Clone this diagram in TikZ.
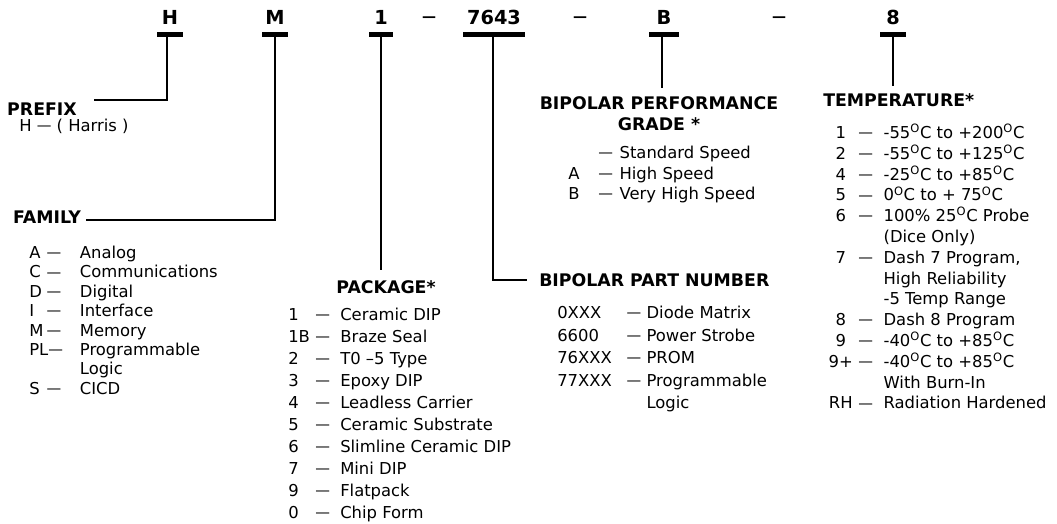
\documentclass[tikz,border=0pt]{standalone}
\usepackage{fontspec}
\setmainfont{DejaVu Sans}
\usepackage{array}
\usepackage{tikz}
\usetikzlibrary{calc}
\newcommand{\dd}{\raisebox{0.6pt}{\fontsize{11}{12}\selectfont ---}}
\newcommand{\dgC}{\textsuperscript{O}C}

\begin{document}
\begin{tikzpicture}[x=0.75pt,y=-0.75pt,
  codechar/.style={font=\fontsize{14.5}{17}\selectfont\bfseries,inner sep=0pt,anchor=base},
  hdr/.style={font=\fontsize{13}{16}\selectfont\bfseries,inner sep=0pt},
  codelist/.style={font=\fontsize{12.3}{#1}\selectfont,inner sep=0pt,anchor=base west},
  tbar/.style={line width=3.6pt},
  lead/.style={line width=2.2pt}]
  \useasboundingbox (0,0) rectangle (1057,524);
  % part number along the top, each field with its T bar
  \foreach \n/\x/\w/\lbl in {pH/170/13/H,pM/275/13/M,p1/381/12/1,pNum/494/31/7643,pB/664/15/B,pT/893/13/8} {
    \node[codechar] (\n) at (\x,25) {\lbl};
    \draw[tbar] ($(\n.south)+(-\w,9)$) -- ($(\n.south)+(\w,9)$);}
  \foreach \n/\x in {d1/429,d2/580,d3/779} \node[codechar] (\n) at (\x,25) {\raisebox{2.5pt}{\fontsize{10.5}{12}\selectfont ---}};
  % prefix
  \node[hdr] (prefix) at (42,109) {PREFIX};
  \node[codelist=15pt] (harris) at (19,131.5) {H \dd{} ( Harris )};
  % family
  \node[hdr] (family) at (47,217) {FAMILY};
  \node[codelist=14.55pt] (famlist) at (29,258.5) {\begin{tabular}[t]{@{}p{13pt}@{}p{25pt}@{}l@{}}
    A & \dd & Analog\\ C & \dd & Communications\\ D & \dd & Digital\\ I & \dd & Interface\\ M & \dd & Memory\\
    \multicolumn{2}{@{}l@{}}{PL\dd} & Programmable\\ & & Logic\\ S & \dd & CICD
  \end{tabular}};
  % package
  \node[hdr] (pkg) at (386,287) {PACKAGE*};
  \node[codelist=16.5pt] (pkglist) at (288,320.5) {\begin{tabular}[t]{@{}p{20.25pt}@{}p{18.75pt}@{}l@{}}
    1 & \dd & Ceramic DIP\\ 1B & \dd & Braze Seal\\ 2 & \dd & T0 --5 Type\\ 3 & \dd & Epoxy DIP\\ 4 & \dd & Leadless Carrier\\
    5 & \dd & Ceramic Substrate\\ 6 & \dd & Slimline Ceramic DIP\\ 7 & \dd & Mini DIP\\ 9 & \dd & Flatpack\\ 0 & \dd & Chip Form
  \end{tabular}};
  % bipolar part number
  \node[hdr,anchor=west] (partno) at (539,280) {BIPOLAR PART NUMBER};
  \node[codelist=16.9pt] (partlist) at (557,318.5) {\begin{tabular}[t]{@{}p{52pt}@{}p{15pt}@{}l@{}}
    0XXX & \dd & Diode Matrix\\ 6600 & \dd & Power Strobe\\ 76XXX & \dd & PROM\\ 77XXX & \dd & Programmable\\ & & Logic
  \end{tabular}};
  % performance grade
  \node[hdr,align=center] (grade) at (659,114) {BIPOLAR PERFORMANCE\\GRADE *};
  \node[codelist=15.4pt] (gradelist) at (568,158.5) {\begin{tabular}[t]{@{}p{22.5pt}@{}p{16pt}@{}l@{}}
    & \dd & Standard Speed\\ A & \dd & High Speed\\ B & \dd & Very High Speed
  \end{tabular}};
  % temperature
  \node[hdr,anchor=west] (temp) at (823,100) {TEMPERATURE*};
  \node[codelist=15.6pt] (templist) at (823,138.5) {\begin{tabular}[t]{@{}>{\centering\arraybackslash}p{26.25pt}@{}p{19pt}@{}l@{}}
    1 & \dd & -55\dgC{} to +200\dgC\\ 2 & \dd & -55\dgC{} to +125\dgC\\ 4 & \dd & -25\dgC{} to +85\dgC\\
    5 & \dd & 0\dgC{} to + 75\dgC\\ 6 & \dd & 100\% 25\dgC{} Probe\\ & & (Dice Only)\\
    7 & \dd & Dash 7 Program,\\ & & High Reliability\\ & & -5 Temp Range\\ 8 & \dd & Dash 8 Program\\
    9 & \dd & -40\dgC{} to +85\dgC\\ 9+ & \dd & -40\dgC{} to +85\dgC\\ & & With Burn-In\\ RH & \dd & Radiation Hardened
  \end{tabular}};
  % leads from the fields down to their headings
  \draw[lead] ($(pH.south)+(-3,9)$) |- ($(prefix.east)+(17,-9)$);
  \draw[lead] ($(pM.south)+(0,9)$) |- ($(family.east)+(5,3)$);
  \draw[lead] ($(p1.south)+(0,9)$) -- ($(p1.south |- pkg.north)+(0,-10)$);
  \draw[lead] ($(pNum.south)+(-1,9)$) |- ($(partno.west)+(-12,0)$);
  \draw[lead,line width=1.8pt] ($(pB.south)+(-2,9)$) -- ($(pB.south |- grade.north)+(-2,-9)$);
  \draw[lead,line width=1.8pt] ($(pT.south)+(0,9)$) -- ($(pT.south |- temp.north)+(0,-7)$);
\end{tikzpicture}
\end{document}
